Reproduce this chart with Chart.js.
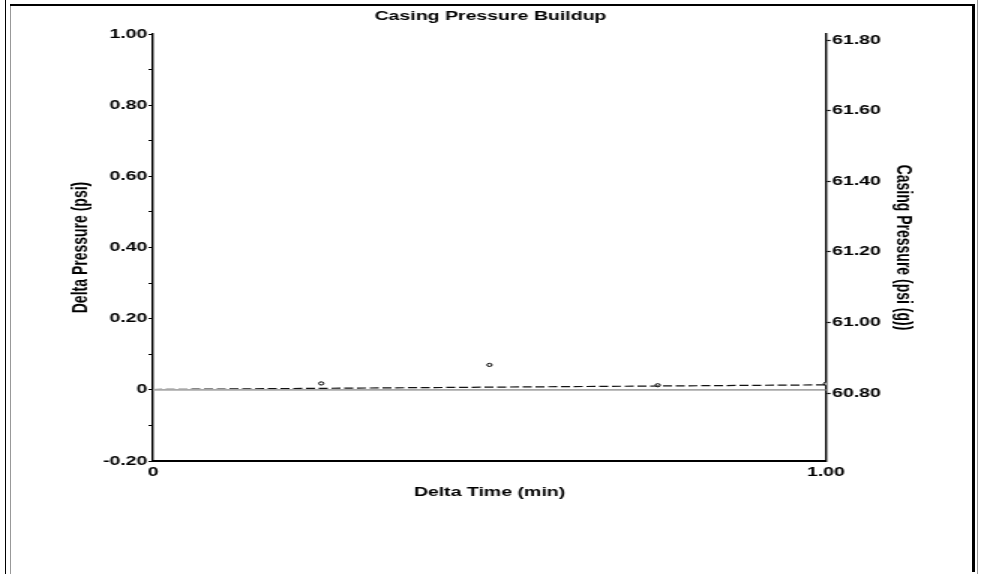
<!DOCTYPE html>
<html>
<head>
<meta charset="utf-8">
<script src="https://cdn.jsdelivr.net/npm/chart.js@4/dist/chart.umd.min.js"></script>
<style>
    body { margin: 0; background: #fff; overflow: hidden; }
    #wrap { position: absolute; left: 0; top: 0; width: 654px; height: 574px; transform-origin: 0 0; transform: scaleX(1.5); }
    .ln { position: absolute; }
</style>
</head>
<body>
<div id="wrap"><canvas id="pressureChart"></canvas></div>
<div class="ln" style="left:5px; top:0; width:1px; height:574px; background:#000;"></div>
<div class="ln" style="left:10px; top:5px; width:1px; height:569px; background:#999;"></div>
<div class="ln" style="left:10px; top:4px; width:964px; height:2px; background:#000;"></div>
<div class="ln" style="left:972px; top:4px; width:3px; height:568px; background:#000;"></div>
<div class="ln" style="left:977px; top:0; width:1px; height:574px; background:#999;"></div>
<script>
// measured points (delta time in min, delta pressure in psi)
const times = [0.25, 0.5, 0.75, 1.0];
const deltaPressure = [0.018, 0.07, 0.013, 0.017];

// dashed trend line end points
const trendTimes = [0, 1.0];
const trendDelta = [0.001, 0.014];

// zero reference line
const baseTimes = [0, 1.0];
const baseDelta = [0, 0];

// axis ticks
const timeTicks = [0, 1.0];
const deltaTicks = [-0.2, 0, 0.2, 0.4, 0.6, 0.8, 1.0];
const deltaMinor = [-0.1, 0.1, 0.3, 0.5, 0.7, 0.9];
const casingTicks = [60.8, 61.0, 61.2, 61.4, 61.6, 61.8];

const fontFam = "Arial, 'Liberation Sans', sans-serif";
const tickFont = { family: fontFam, size: 13, weight: 'bold' };

function fmt(v) {
    return Math.abs(v) < 1e-9 ? '0' : v.toFixed(2);
}

new Chart(document.getElementById('pressureChart'), {
    type: 'scatter',
    data: {
        datasets: [
            {
                label: 'Zero',
                data: baseTimes.map((t, i) => ({ x: t, y: baseDelta[i] })),
                showLine: true,
                borderColor: '#a8a8a8',
                borderWidth: 1.6,
                pointRadius: 0
            },
            {
                label: 'Trend',
                data: trendTimes.map((t, i) => ({ x: t, y: trendDelta[i] })),
                showLine: true,
                borderColor: '#111',
                borderWidth: 1.2,
                borderDash: [6, 2.5],
                pointRadius: 0
            },
            {
                label: 'Delta Pressure',
                data: times.map((t, i) => ({ x: t, y: deltaPressure[i] })),
                showLine: false,
                pointRadius: 1.6,
                pointBorderWidth: 1,
                pointBorderColor: '#000',
                pointBackgroundColor: '#fff'
            }
        ]
    },
    options: {
        responsive: true,
        maintainAspectRatio: false,
        animation: false,
        layout: { padding: 0 },
        plugins: {
            legend: { display: false },
            tooltip: { enabled: false },
            title: {
                display: true,
                text: 'Casing Pressure Buildup',
                color: '#000',
                font: { family: fontFam, size: 13, weight: 'bold' },
                padding: { top: 8.5, bottom: 9.9 }
            }
        },
        scales: {
            x: {
                type: 'linear',
                min: 0,
                max: 1,
                afterBuildTicks: axis => { axis.ticks = timeTicks.map(v => ({ value: v })); },
                afterFit: axis => { axis.height = 113; },
                grid: { display: false, drawTicks: false },
                border: { display: true, color: '#000', width: 2 },
                ticks: { color: '#000', font: tickFont, padding: 4, maxRotation: 0, autoSkip: false, callback: fmt },
                title: {
                    display: true,
                    text: 'Delta Time (min)',
                    color: '#000',
                    font: { family: fontFam, size: 13, weight: 'bold' },
                    padding: { top: 0, bottom: 73.5 }
                }
            },
            y: {
                position: 'left',
                min: -0.2,
                max: 1.0,
                afterBuildTicks: axis => {
                    axis.ticks = deltaTicks.concat(deltaMinor).sort((a, b) => a - b).map(v => ({ value: v }));
                },
                afterFit: axis => { axis.width = 102; },
                grid: { display: true, drawOnChartArea: false, drawTicks: true, tickLength: 3, tickColor: '#000', tickWidth: 1.2 },
                border: { display: true, color: '#000', width: 1.4 },
                ticks: {
                    color: '#000', font: tickFont, padding: 0.7, autoSkip: false,
                    callback: v => deltaTicks.some(d => Math.abs(d - v) < 1e-6) ? fmt(v) : ''
                },
                title: {
                    display: true,
                    text: 'Delta Pressure (psi)',
                    color: '#000',
                    font: { family: fontFam, size: 14, weight: 'bold' },
                    padding: { top: 46, bottom: 0 }
                }
            },
            y2: {
                position: 'right',
                min: 60.608,
                max: 61.817,
                afterBuildTicks: axis => { axis.ticks = casingTicks.map(v => ({ value: v })); },
                afterFit: axis => { axis.width = 654 - 550.67; },
                grid: { display: true, drawOnChartArea: false, drawTicks: true, tickLength: 3, tickColor: '#000', tickWidth: 1.2 },
                border: { display: true, color: '#000', width: 1.4 },
                ticks: { color: '#000', font: tickFont, padding: 1, autoSkip: false, callback: v => v.toFixed(2) },
                title: {
                    display: true,
                    text: 'Casing Pressure (psi (g))',
                    color: '#000',
                    font: { family: fontFam, size: 14, weight: 'bold' },
                    padding: { top: 43.5, bottom: 0 }
                }
            }
        }
    }
});
</script>
</body>
</html>
